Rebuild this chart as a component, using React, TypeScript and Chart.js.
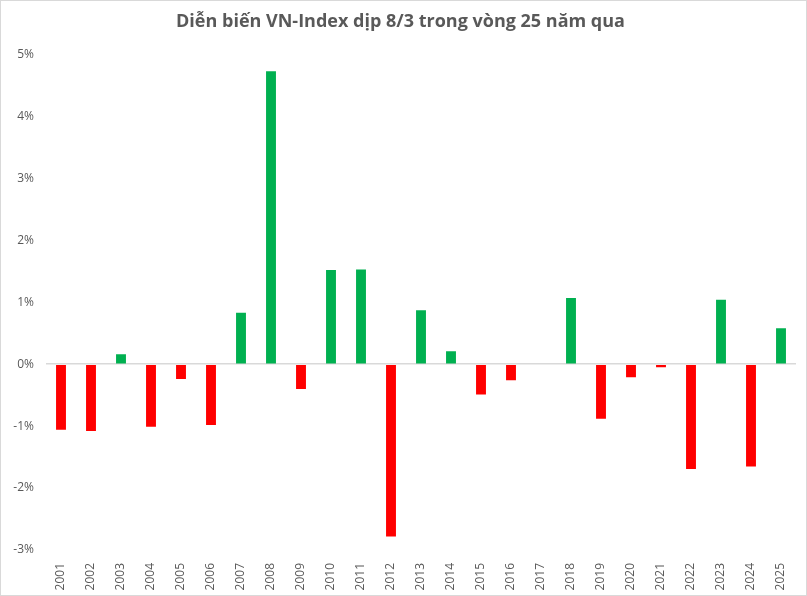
import React, { useEffect, useRef } from "react";
import { Chart, registerables } from "chart.js";

Chart.register(...registerables);

const years = ["2001","2002","2003","2004","2005","2006","2007","2008","2009","2010","2011","2012","2013","2014","2015","2016","2017","2018","2019","2020","2021","2022","2023","2024","2025"];
const changes = [-1.06,-1.08,0.16,-1.01,-0.24,-0.98,0.83,4.73,-0.40,1.52,1.53,-2.78,0.87,0.21,-0.49,-0.26,0,1.07,-0.88,-0.21,-0.05,-1.69,1.04,-1.65,0.58];
const title = "Diễn biến VN-Index dịp 8/3 trong vòng 25 năm qua";
const upColor = "#00B050";
const downColor = "#FF0000";
const textColor = "#595959";

export default function App() {
  const ref = useRef<HTMLCanvasElement>(null);
  useEffect(() => {
    document.body.style.margin = "0";
    const chart = new Chart(ref.current!, {
      type: "bar",
      data: {
        labels: years,
        datasets: [{
          data: changes,
          backgroundColor: changes.map(v => (v >= 0 ? upColor : downColor)),
          barPercentage: 0.33,
          categoryPercentage: 1,
        }],
      },
      options: {
        animation: false,
        responsive: false,
        layout: { padding: { left: 4, right: 10, top: 0, bottom: 0 } },
        plugins: {
          legend: { display: false },
          tooltip: { enabled: false },
          title: {
            display: true,
            text: title,
            color: textColor,
            font: { family: "Open Sans", size: 18, weight: "bold" },
            padding: { top: 10, bottom: 22 },
          },
        },
        scales: {
          x: {
            grid: { display: false },
            border: { display: false },
            ticks: {
              color: textColor,
              font: { family: "Open Sans", size: 12 },
              minRotation: 90,
              maxRotation: 90,
              padding: 5,
            },
            afterFit: (s: any) => { s.height = 45; },
          },
          y: {
            min: -3,
            max: 5,
            border: { display: false },
            grid: {
              drawTicks: false,
              color: (ctx: any) => (ctx.tick && ctx.tick.value === 0 ? "#d9d9d9" : "transparent"),
              lineWidth: 1.5,
            },
            ticks: {
              stepSize: 1,
              color: textColor,
              font: { family: "Open Sans", size: 12 },
              padding: 12,
              callback: (v: any) => v + "%",
            },
            afterFit: (s: any) => { s.width = 41; },
          },
        },
      },
    });
    return () => chart.destroy();
  }, []);
  return (
    <div style={{ width: 807, height: 596, boxSizing: "border-box", border: "1px solid #d9d9d9", background: "#fff" }}>
      <canvas ref={ref} width={805} height={594} style={{ display: "block" }} />
    </div>
  );
}
